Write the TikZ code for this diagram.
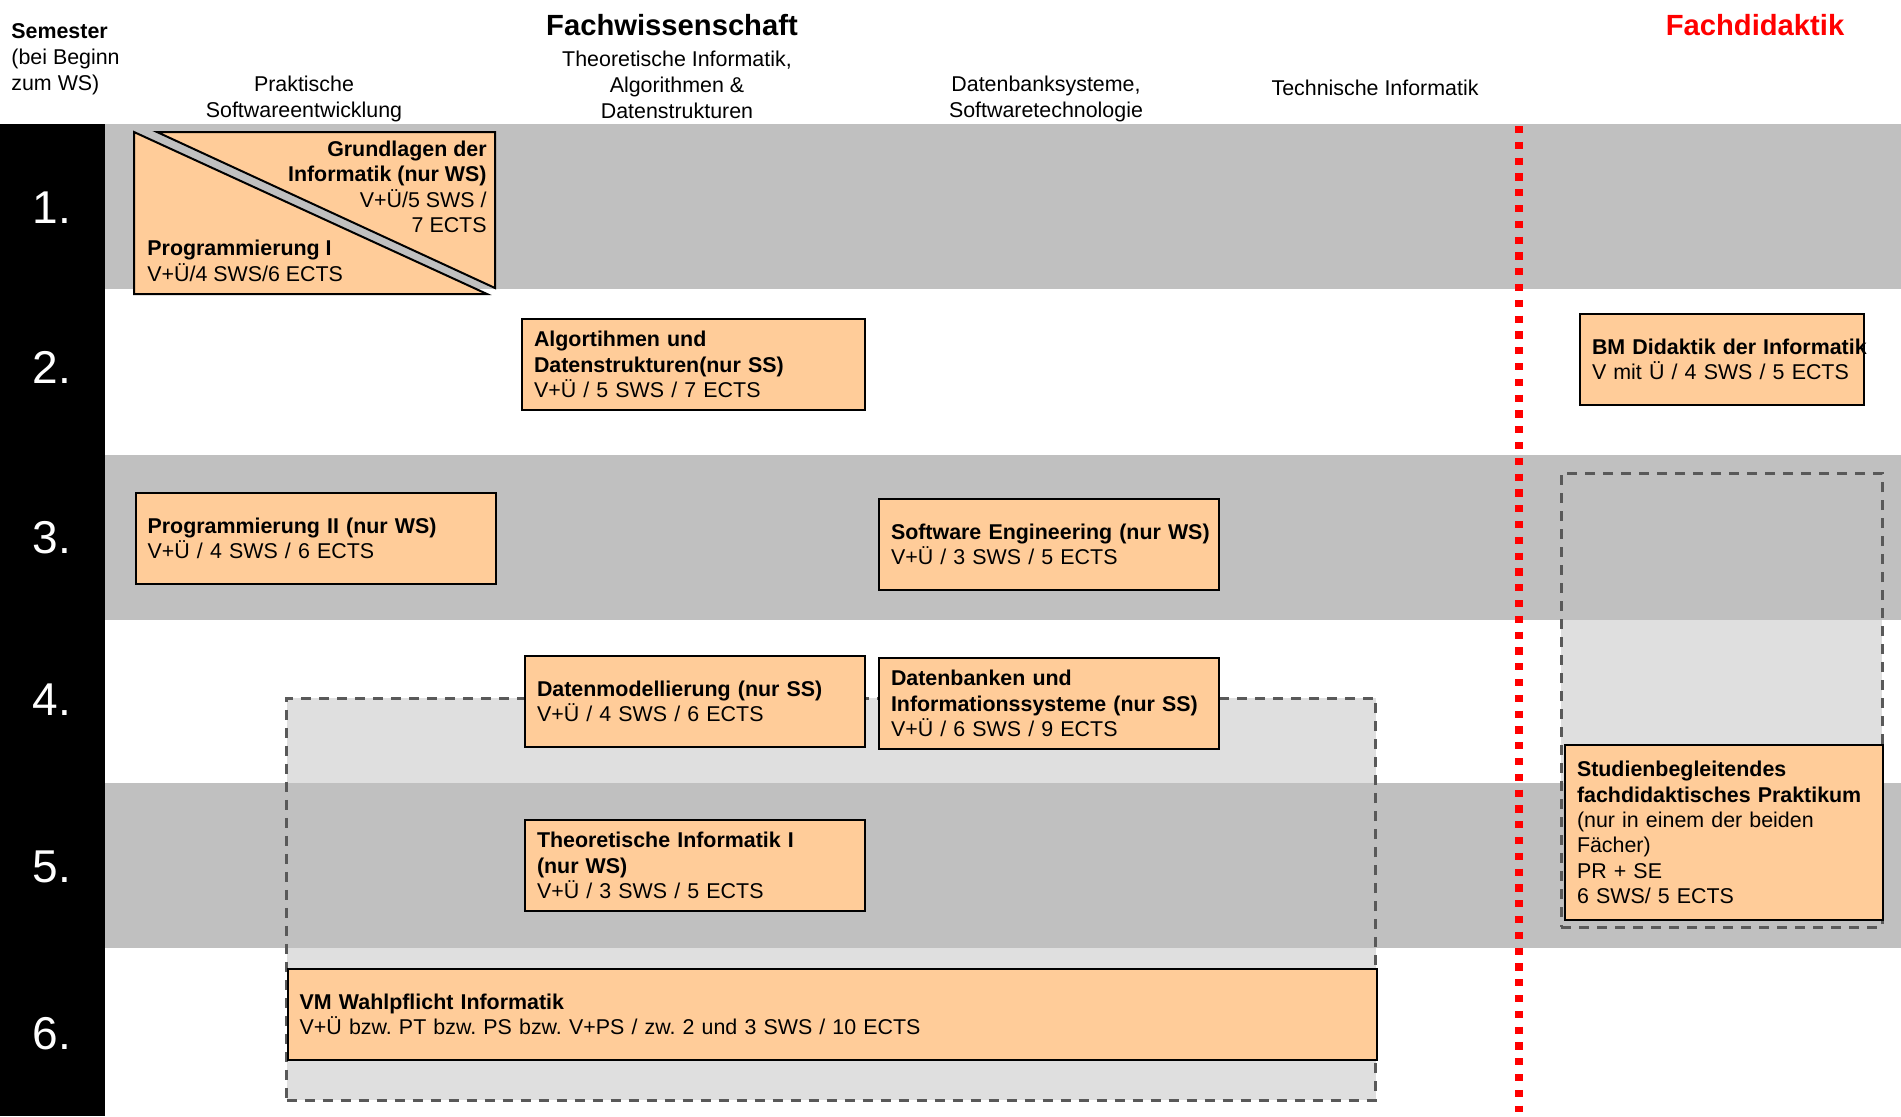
\documentclass[tikz,border=0pt]{standalone}
\usepackage{fontspec}
\setmainfont{Liberation Sans}
\usepackage{xcolor}
\usepackage{tikz}
\usetikzlibrary{fit}

\definecolor{coursefill}{HTML}{FFCC99}
\definecolor{bandgray}{HTML}{C0C0C0}
\definecolor{groupline}{HTML}{595959}

\frenchspacing

\begin{document}
\begin{tikzpicture}[x=0.5pt, y=-0.5pt]

	% Styles
	\tikzset{
		course/.style={
			rectangle, draw, line width=1pt, fill=coursefill, anchor=north west,
			minimum width=170pt, minimum height=45.5pt, text width=158pt,
			inner xsep=6pt, inner ysep=0pt, align=left,
			font={\fontsize{10.7}{12.7}\selectfont}
		},
		splitbox/.style={draw, line width=1pt, fill=coursefill},
		splittext/.style={inner sep=0pt, font={\fontsize{10.7}{12.7}\selectfont}},
		group/.style={
			rectangle, draw=groupline, line width=1.5pt, dash pattern=on 5pt off 4pt,
			fill=bandgray, fill opacity=0.5, inner sep=0pt
		},
		headtext/.style={inner sep=0pt, align=center, font={\fontsize{10.7}{12.9}\selectfont}},
		titletext/.style={inner sep=0pt, font={\fontsize{14.6}{17}\selectfont\bfseries}},
		semnum/.style={inner sep=0pt, text=white, font={\fontsize{23}{27}\selectfont}},
		divider/.style={red, line width=3.6pt, dash pattern=on 3.6pt off 4.3pt}
	}

	\useasboundingbox (0,0) rectangle (1901,1116);

	% Semester bands
	\foreach \top/\bot in {124/288.5, 455/619.5, 783/948}
		\fill[bandgray] (105,\top) rectangle (1901,\bot);
	\fill[black] (0,124) rectangle (105,1116);
	\foreach \n/\y in {1/208, 2/367, 3/538, 4/700, 5/867, 6/1034}
		\node (sem\n) [semnum] at (52,\y) {\n.};

	% Column headings
	\node (semester) [headtext, anchor=west, align=left] at (11,59) {\textbf{Semester}\\(bei Beginn\\zum WS)};
	\node (fachwiss) [titletext] at (672,25) {Fachwissenschaft};
	\node (fachdid) [titletext, text=red] at (1755,25) {Fachdidaktik};
	\node (praktisch) [headtext] at (304,99) {Praktische\\Softwareentwicklung};
	\node (theorie) [headtext] at (677,85) {Theoretische Informatik,\\Algorithmen \&\\Datenstrukturen};
	\node (datenbank) [headtext] at (1046,99) {Datenbanksysteme,\\Softwaretechnologie};
	\node (technisch) [headtext] at (1375,88) {Technische Informatik};

	% Dashed groups
	\node (wahlgroup) [group, fit={(286.7,698) (1375.8,1100)}] {};
	\node (praxisgroup) [group, fit={(1561,473) (1882,927)}] {};

	% Fachwissenschaft / Fachdidaktik divider
	\coordinate (divtop) at (1519,126);
	\coordinate (divbot) at (1519,1112);
	\draw[divider] (divtop) -- (divbot);

	% 1. Semester (split box)
	\filldraw[splitbox] (134,132) -- (134,294) -- (487,294) -- cycle;
	\filldraw[splitbox] (157,132) -- (495,132) -- (495,288) -- cycle;
	\node (grundlagen) [splittext, anchor=east, align=right] at (487,187) {\textbf{Grundlagen der}\\\textbf{Informatik (nur WS)}\\V+Ü/5 SWS /\\7 ECTS};
	\node (prog1) [splittext, anchor=west, align=left] at (147,261) {\textbf{Programmierung I}\\V+Ü/4 SWS/6 ECTS};

	% Modules
	\node (algo) [course, text width=159.5pt] at (521,318) {\textbf{Algortihmen und}\\\textbf{Datenstrukturen(nur SS)}\\V+Ü / 5 SWS / 7 ECTS};
	\node (didaktik) [course, minimum width=142pt, text width=130pt] at (1579,313) {\mbox{\textbf{BM Didaktik der Informatik}}\\V mit Ü / 4 SWS / 5 ECTS};
	\node (prog2) [course, text width=168pt] at (134.6,492) {\textbf{Programmierung II (nur WS)}\\V+Ü / 4 SWS / 6 ECTS};
	\node (swe) [course] at (878,498) {\mbox{\textbf{Software Engineering (nur WS)}}\\V+Ü / 3 SWS / 5 ECTS};
	\node (datmod) [course] at (524,655) {\textbf{Datenmodellierung (nur SS)}\\V+Ü / 4 SWS / 6 ECTS};
	\node (datbank) [course] at (878,657) {\textbf{Datenbanken und}\\\textbf{Informationssysteme (nur SS)}\\V+Ü / 6 SWS / 9 ECTS};
	\node (theo1) [course] at (524,819) {\textbf{Theoretische Informatik I}\\\textbf{(nur WS)}\\V+Ü / 3 SWS / 5 ECTS};
	\node (wahlpflicht) [course, minimum width=544.5pt, text width=532.5pt] at (286.7,968) {\textbf{VM Wahlpflicht Informatik}\\V+Ü bzw. PT bzw. PS bzw. V+PS / zw. 2 und 3 SWS / 10 ECTS};
	\node (praktikum) [course, minimum width=159pt, text width=147pt, minimum height=87.5pt] at (1564,744) {\textbf{Studienbegleitendes}\\\mbox{\textbf{fachdidaktisches Praktikum}}\\(nur in einem der beiden\\Fächer)\\PR + SE\\6 SWS/ 5 ECTS};

\end{tikzpicture}
\end{document}
